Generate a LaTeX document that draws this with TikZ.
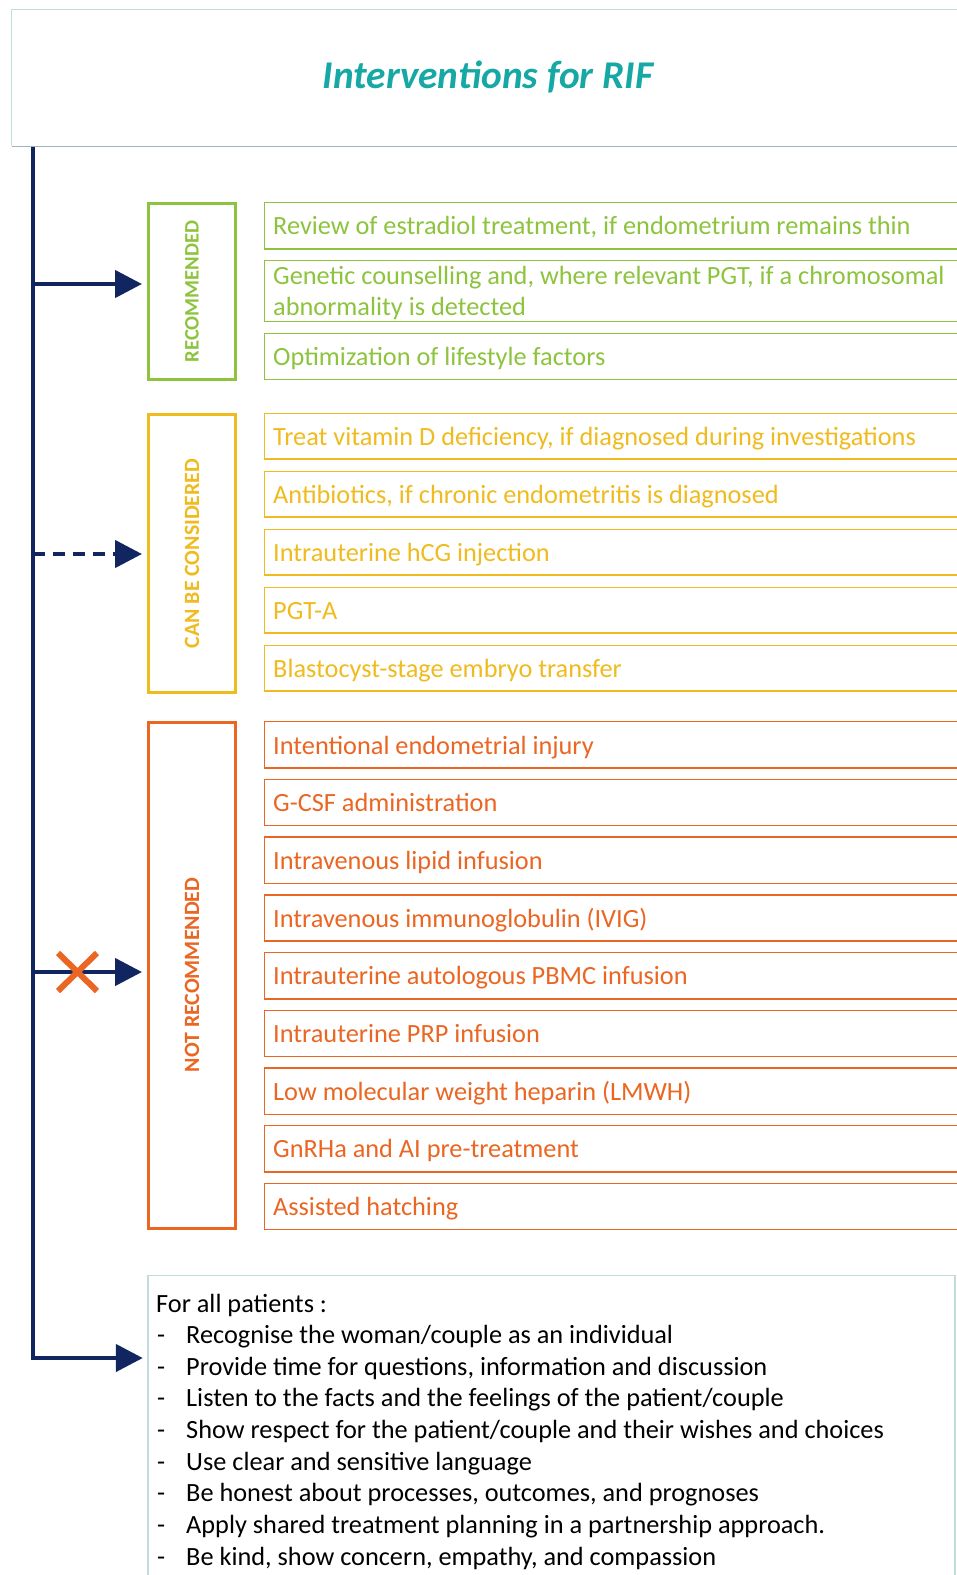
\documentclass[tikz,border=0pt]{standalone}
\usepackage{fontspec}
\setmainfont{Carlito}
\usetikzlibrary{arrows.meta}
\definecolor{navy}{RGB}{17,38,96}
\definecolor{rgreen}{RGB}{141,196,62}
\definecolor{ryellow}{RGB}{240,187,30}
\definecolor{rorange}{RGB}{234,102,34}
\definecolor{tealt}{RGB}{22,168,165}
\definecolor{lteal}{RGB}{190,222,220}
\definecolor{tbot}{RGB}{160,180,190}
\tikzset{
  trunk/.style={draw=navy,line width=4.5pt},
  arr/.style={draw=navy,line width=4.5pt,-{Triangle[length=27pt,width=27pt]},shorten >=5pt},
  catbox/.style={draw=#1,text=#1,line width=3pt,rotate=90,inner sep=0pt,minimum height=87pt},
  catfont/.style={font=\bfseries\fontsize{#1}{24}\selectfont},
  itembox/.style={draw=#1,line width=1.4pt},
  itemtext/.style={text=#1,anchor=base west,inner sep=0pt,font=\fontsize{26.3}{31.6}\selectfont},
  bodytext/.style={text=black,anchor=base west,inner sep=0pt,font=\fontsize{26.3}{31.6}\selectfont},
}
\begin{document}
\begin{tikzpicture}[x=1pt,y=-1pt]
\clip (0,0) rectangle (957,1575);
\fill[white] (0,0) rectangle (957,1575);
% title
\draw[lteal,line width=1.2pt] (980,9.5) -- (11.5,9.5) -- (11.5,146);
\draw[tbot,line width=1.6pt] (11.5,146.5) -- (980,146.5);
\node[text=tealt,font=\bfseries\itshape\fontsize{39.3}{46}\selectfont] (title) at (488,76.5) {Interventions for RIF};
% category boxes
\node[catbox=rgreen,catfont=20.6,minimum width=176pt] (rec) at (192,291.5) {RECOMMENDED};
\node[catbox=ryellow,catfont=21.8,minimum width=278pt] (can) at (192,553.5) {CAN BE CONSIDERED};
\node[catbox=rorange,catfont=21.8,minimum width=506pt] (not) at (192,975) {NOT RECOMMENDED};
% bottom box
\draw[lteal,line width=1.2pt] (148,1600) -- (148,1275.5) -- (955,1275.5) -- (955,1600);
\node[inner sep=0pt,minimum size=0pt] (allbox) at (148,1358) {};
% trunk
\coordinate (top) at (33,147);
\coordinate (t1) at (33,284);
\coordinate (t2) at (33,554);
\coordinate (t3) at (33,972);
\coordinate (t4) at (33,1358);
\draw[trunk] (top) -- (t4);
\draw[arr] (t1) -- (t1 -| rec.north);
\draw[arr,dash pattern=on 12pt off 8pt] (t2) -- (t2 -| can.north);
\draw[arr] (t3) -- (t3 -| not.north);
\draw[arr] (t4) -- (allbox);
\fill[navy] (30.75,1355.75) rectangle (35.25,1360.25);
% X mark
\draw[rorange,line width=6pt] (58,953) -- (97,991) (58,991) -- (97,953);
% green items
\draw[itembox=rgreen] (264.7,202.7) rectangle (990,249);
\draw[itembox=rgreen] (264.7,260.7) rectangle (990,321.5);
\draw[itembox=rgreen] (264.7,333.7) rectangle (990,379.5);
\node[itemtext=rgreen] (g1) at (273,234.5) {Review of estradiol treatment, if endometrium remains thin};
\node[itemtext=rgreen] (g2) at (273,284) {Genetic counselling and, where relevant PGT, if a chromosomal};
\node[itemtext=rgreen] (g2b) at (273,315.5) {abnormality is detected};
\node[itemtext=rgreen] (g3) at (273,365) {Optimization of lifestyle factors};
% yellow items
\foreach \t [count=\i from 0] in {{Treat vitamin D deficiency, if diagnosed during investigations},{Antibiotics, if chronic endometritis is diagnosed},Intrauterine hCG injection,PGT-A,Blastocyst-stage embryo transfer}{
  \draw[itembox=ryellow] (264.7,413.7+58*\i) rectangle (990,459+58*\i);
  \node[itemtext=ryellow] (y\i) at (273,445.5+58*\i) {\t};
}
% orange items
\foreach \t [count=\i from 0] in {Intentional endometrial injury,G-CSF administration,Intravenous lipid infusion,Intravenous immunoglobulin (IVIG),Intrauterine autologous PBMC infusion,Intrauterine PRP infusion,Low molecular weight heparin (LMWH),GnRHa and AI pre-treatment,Assisted hatching}{
  \draw[itembox=rorange] (264.7,721.7+57.7*\i) rectangle (990,768+57.7*\i);
  \node[itemtext=rorange] (o\i) at (273,754+57.7*\i) {\t};
}
% bottom text
\node[bodytext] (fa) at (156,1312) {For all patients :};
\foreach \t [count=\i from 1] in {Recognise the woman/couple as an individual,{Provide time for questions, information and discussion},Listen to the facts and the feelings of the patient/couple,Show respect for the patient/couple and their wishes and choices,Use clear and sensitive language,{Be honest about processes, outcomes, and prognoses},Apply shared treatment planning in a partnership approach.,{Be kind, show concern, empathy, and compassion}}{
  \node[bodytext] (d\i) at (157,1312+31.64*\i) {-};
  \node[bodytext] (b\i) at (186,1312+31.64*\i) {\t};
}
\end{tikzpicture}
\end{document}
